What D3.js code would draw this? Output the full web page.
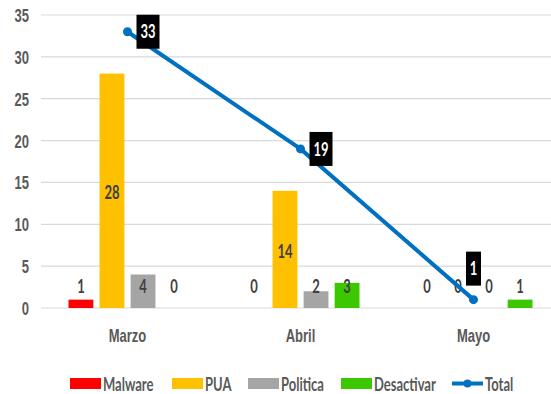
<!DOCTYPE html>
<html>
<head>
<meta charset="utf-8">
<script src="https://cdn.jsdelivr.net/npm/d3@7"></script>
<style>
  html, body { margin: 0; padding: 0; background: #fff; }
  svg { display: block; font-family: Lato, "Liberation Sans", sans-serif; }
</style>
</head>
<body>
<svg id="chart" width="551" height="394"></svg>
<script>
// Monthly counts by category
const months = ["Marzo", "Abril", "Mayo"];
const seriesNames = ["Malware", "PUA", "Politica", "Desactivar"];
const malware = [1, 0, 0];
const pua = [28, 14, 0];
const politica = [4, 2, 0];
const desactivar = [0, 3, 1];
const total = [33, 19, 1];
const yTicks = [0, 5, 10, 15, 20, 25, 30, 35];
const seriesColors = ["#ff0000", "#ffc000", "#a5a5a5", "#3cc800"];
const totalColor = "#0070c0";

const seriesValues = [malware, pua, politica, desactivar];

const svg = d3.select("#chart");
const plotLeft = 41, plotRight = 560, plotTop = 15, plotBottom = 308;
const fontSize = 13;
const textStretch = 1.4; // tall, narrow lettering

// Place a text node at (x, y), vertically centred and stretched
function placeText(sel, x, y) {
  sel.attr("x", 0).attr("y", 0).attr("dy", "0.36em")
    .attr("transform", `translate(${x},${y}) scale(1,${textStretch})`)
    .attr("font-size", fontSize).attr("font-weight", "bold");
}

const y = d3.scaleLinear().domain([0, 35]).range([plotBottom, plotTop]);
const x0 = d3.scaleBand().domain(months).range([plotLeft, plotRight]);
const x1 = d3.scaleBand().domain(seriesNames).range([-59, 59]).paddingInner(0.2);

// Gridlines
svg.append("g")
  .selectAll("line")
  .data(yTicks)
  .join("line")
  .attr("x1", plotLeft).attr("x2", 551)
  .attr("y1", d => y(d)).attr("y2", d => y(d))
  .attr("stroke", "#d9d9d9").attr("stroke-width", 1.2);

// Y axis labels
const yAxis = d3.axisLeft(y).tickValues(yTicks).tickSize(0).tickPadding(12);
const yg = svg.append("g").attr("transform", `translate(${plotLeft},0)`).call(yAxis);
yg.select(".domain").remove();
yg.selectAll("text")
  .attr("fill", "#595959").style("font-family", "inherit")
  .each(function () { placeText(d3.select(this), -12, 0); });

// X axis labels
const xAxis = d3.axisBottom(x0).tickSize(0);
const xg = svg.append("g").attr("transform", `translate(0,${plotBottom})`).call(xAxis);
xg.select(".domain").remove();
xg.selectAll("text")
  .attr("fill", "#595959").style("font-family", "inherit")
  .each(function () { placeText(d3.select(this), 0, 27); });

// Bars and their value labels
const barData = [];
months.forEach((m, i) => {
  seriesNames.forEach((s, j) => {
    barData.push({ month: m, series: s, value: seriesValues[j][i], color: seriesColors[j] });
  });
});
const barX = d => x0(d.month) + x0.bandwidth() / 2 + x1(d.series);

const groups = svg.append("g");
groups.selectAll("rect")
  .data(barData)
  .join("rect")
  .attr("x", barX)
  .attr("y", d => y(d.value))
  .attr("width", x1.bandwidth())
  .attr("height", d => plotBottom - y(d.value))
  .attr("fill", d => d.color);

groups.selectAll("text")
  .data(barData)
  .join("text")
  .attr("text-anchor", "middle")
  .attr("fill", "#404040")
  .text(d => d.value)
  .each(function (d) {
    placeText(d3.select(this), barX(d) + x1.bandwidth() / 2,
      Math.min(y(d.value / 2) + 2, plotBottom - 22));
  });

// Total line
const cx = i => x0(months[i]) + x0.bandwidth() / 2;
const line = d3.line().x((d, i) => cx(i)).y(d => y(d));
svg.append("path")
  .datum(total)
  .attr("d", line)
  .attr("fill", "none")
  .attr("stroke", totalColor)
  .attr("stroke-width", 4)
  .attr("stroke-linecap", "round");

svg.append("g")
  .selectAll("circle")
  .data(total)
  .join("circle")
  .attr("cx", (d, i) => cx(i))
  .attr("cy", d => y(d))
  .attr("r", 4.5)
  .attr("fill", totalColor);

// Total value labels in black boxes
const labelPos = ["right", "right", "top"];
const lg = svg.append("g");
total.forEach((v, i) => {
  const px = cx(i), py = y(v);
  const w = String(v).length > 1 ? 23 : 15, h = 34;
  let bx, by;
  if (labelPos[i] === "right") { bx = px + 9; by = py - h / 2; }
  else { bx = px - w / 2; by = py - 14 - h; }
  lg.append("rect").attr("x", bx).attr("y", by).attr("width", w).attr("height", h).attr("fill", "#000");
  lg.append("text")
    .attr("text-anchor", "middle")
    .attr("fill", "#fff")
    .text(v)
    .call(placeText, bx + w / 2, by + h / 2);
});

// Legend
const legendItems = [
  { name: "Malware", color: seriesColors[0], x: 70 },
  { name: "PUA", color: seriesColors[1], x: 172 },
  { name: "Politica", color: seriesColors[2], x: 248 },
  { name: "Desactivar", color: seriesColors[3], x: 341 },
  { name: "Total", color: totalColor, x: 452, line: true }
];
const legY = 383.5;
const leg = svg.append("g");
legendItems.forEach(it => {
  if (it.line) {
    leg.append("line").attr("x1", it.x).attr("x2", it.x + 31)
      .attr("y1", legY).attr("y2", legY)
      .attr("stroke", it.color).attr("stroke-width", 4);
    leg.append("circle").attr("cx", it.x + 15.5).attr("cy", legY).attr("r", 4).attr("fill", it.color);
  } else {
    leg.append("rect").attr("x", it.x).attr("y", legY - 5.5).attr("width", 31).attr("height", 11).attr("fill", it.color);
  }
  leg.append("text")
    .attr("fill", "#595959")
    .text(it.name)
    .call(placeText, it.x + 33, legY + 1);
});
</script>
</body>
</html>
